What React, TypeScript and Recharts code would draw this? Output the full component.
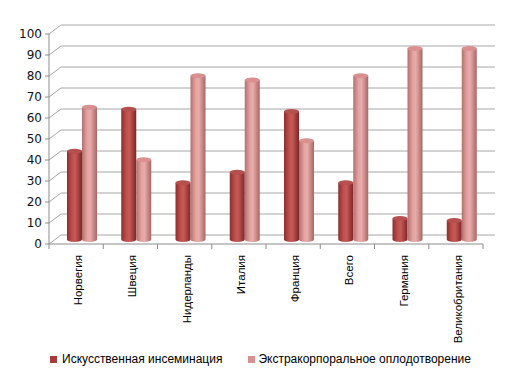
import { BarChart, Bar, XAxis, YAxis, CartesianGrid, Legend } from "recharts";

const countries = [
  "Норвегия",
  "Швеция",
  "Нидерланды",
  "Италия",
  "Франция",
  "Всего",
  "Германия",
  "Великобритания",
];
const insemination = [42, 62, 27, 32, 61, 27, 10, 9];
const ivf = [63, 38, 78, 76, 47, 78, 91, 91];
const yTicks = [0, 10, 20, 30, 40, 50, 60, 70, 80, 90, 100];

const data = countries.map((name, i) => ({
  name,
  ai: insemination[i],
  ivf: ivf[i],
}));

const W = 523;
const H = 384;
const LEFT = 49;
const RIGHT = 483;
const BAND = (RIGHT - LEFT) / countries.length;
// 3d depth offset of the back wall; bars sit at half of it
const DX = 12;
const DY = -9;

const makeCylinder = (id: string, top: string) => (props: any) => {
  const { x, y, width, height } = props;
  if (!height || height <= 0) return null;
  const bx = x + DX / 2;
  const by = y + DY / 2;
  const rx = width / 2;
  const ry = 2.5;
  return (
    <g>
      <path
        d={`M${bx} ${by} L${bx} ${by + height} A${rx} ${ry} 0 0 0 ${bx + width} ${by + height} L${bx + width} ${by} Z`}
        fill={`url(#${id})`}
      />
      <ellipse cx={bx + rx} cy={by} rx={rx} ry={ry} fill={top} />
    </g>
  );
};

const DarkBar = makeCylinder("gDark", "#b5504e");
const LightBar = makeCylinder("gLight", "#d9908e");

const GridLine = (props: any) => {
  const { x1, x2, y1 } = props;
  const isFloor = Math.abs(y1 - 242) < 1.5;
  if (isFloor) {
    return (
      <path
        d={`M${x1} ${y1} L${x1 + DX} ${y1 + DY} L${x2 + DX} ${y1 + DY} L${x2} ${y1} Z`}
        fill="#fafafa"
        stroke="#a6a6a6"
        strokeWidth={1}
      />
    );
  }
  return (
    <path
      d={`M${x1} ${y1} L${x1 + DX} ${y1 + DY} L${x2 + DX} ${y1 + DY}`}
      fill="none"
      stroke="#a6a6a6"
      strokeWidth={1}
    />
  );
};

const CategoryTick = (props: any) => {
  const { x, y, payload, index } = props;
  const last = index === countries.length - 1;
  return (
    <g>
      <line x1={x - BAND / 2} y1={y} x2={x - BAND / 2} y2={y + 5} stroke="#8c8c8c" />
      {last && (
        <line x1={x + BAND / 2} y1={y} x2={x + BAND / 2} y2={y + 5} stroke="#8c8c8c" />
      )}
      <text
        transform={`translate(${x + 6},${y + 11}) rotate(-90)`}
        textAnchor="end"
        fontFamily="'Liberation Sans', Arial, sans-serif"
        fontSize={11.5}
        fill="#000"
      >
        {payload.value}
      </text>
    </g>
  );
};

const LegendBox = () => (
  <div
    style={{
      height: 34,
      display: "flex",
      alignItems: "flex-start",
      fontFamily: "'Liberation Sans', Arial, sans-serif",
      fontSize: 12,
      color: "#000",
    }}
  >
    <div style={{ display: "flex", alignItems: "center", height: 18, marginLeft: 50 }}>
      <span style={{ width: 7, height: 7, background: "#a83c3a", marginRight: 5 }} />
      Искусственная инсеминация
    </div>
    <div style={{ display: "flex", alignItems: "center", height: 18, marginLeft: 26 }}>
      <span style={{ width: 7, height: 7, background: "#d9908e", marginRight: 3 }} />
      Экстракорпоральное оплодотворение
    </div>
  </div>
);

export default function App() {
  return (
    <div style={{ position: "absolute", left: 0, top: 0, width: W, height: H, background: "#fff" }}>
      <BarChart
        width={W}
        height={H}
        data={data}
        margin={{ top: 34, right: W - RIGHT, bottom: 0, left: 0 }}
        barSize={15}
        barGap={0}
      >
        <defs>
          <linearGradient id="gDark" x1="0" y1="0" x2="1" y2="0">
            <stop offset="0%" stopColor="#8a2f2d" />
            <stop offset="35%" stopColor="#c0504d" />
            <stop offset="55%" stopColor="#c65a57" />
            <stop offset="100%" stopColor="#7e2624" />
          </linearGradient>
          <linearGradient id="gLight" x1="0" y1="0" x2="1" y2="0">
            <stop offset="0%" stopColor="#b36f6d" />
            <stop offset="35%" stopColor="#e3a3a1" />
            <stop offset="55%" stopColor="#e8acaa" />
            <stop offset="100%" stopColor="#a86664" />
          </linearGradient>
        </defs>
        <CartesianGrid vertical={false} horizontal={GridLine} />
        <XAxis
          dataKey="name"
          interval={0}
          height={106}
          tickLine={false}
          tickSize={0}
          tickMargin={0}
          axisLine={{ stroke: "#8c8c8c" }}
          tick={CategoryTick}
        />
        <YAxis
          width={LEFT}
          domain={[0, 100]}
          ticks={yTicks}
          interval={0}
          tickSize={4}
          tickMargin={3}
          axisLine={{ stroke: "#8c8c8c" }}
          tickLine={{ stroke: "#8c8c8c" }}
          tick={{ fontFamily: "'DejaVu Sans', Verdana, sans-serif", fontSize: 12, fill: "#111" }}
        />
        <Legend verticalAlign="bottom" content={LegendBox} />
        <Bar dataKey="ai" name="Искусственная инсеминация" fill="#c0504d" shape={DarkBar} isAnimationActive={false} />
        <Bar dataKey="ivf" name="Экстракорпоральное оплодотворение" fill="#d99694" shape={LightBar} isAnimationActive={false} />
      </BarChart>
    </div>
  );
}
